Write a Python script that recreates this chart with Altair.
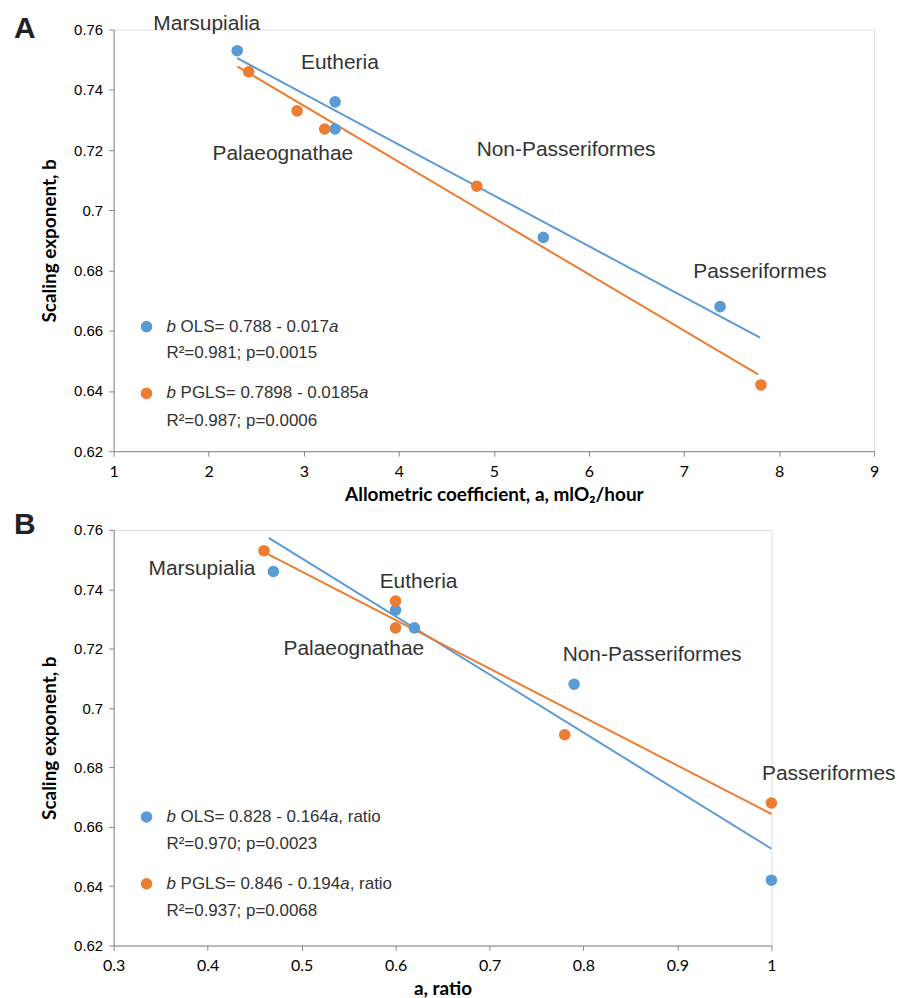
import altair as alt
import pandas as pd

# ---------------- data ----------------
groups = ["Marsupialia", "Eutheria", "Palaeognathae", "Non-Passeriformes", "Passeriformes"]

# Panel A: allometric coefficient a (mlO2/hour) vs scaling exponent b
a_ols_x = [2.30, 3.33, 3.33, 5.52, 7.38]
a_ols_y = [0.753, 0.736, 0.727, 0.691, 0.668]
a_pgls_x = [2.42, 2.93, 3.22, 4.82, 7.81]
a_pgls_y = [0.746, 0.733, 0.727, 0.708, 0.642]
a_fit_ols_x = [2.30, 7.80]
a_fit_ols_y = [0.7505, 0.6577]
a_fit_pgls_x = [2.30, 7.78]
a_fit_pgls_y = [0.7478, 0.6455]
a_label_x = [1.98, 3.38, 2.78, 5.76, 7.80]
a_label_y = [0.7617, 0.749, 0.7186, 0.720, 0.6796]

# Panel B: a ratio vs scaling exponent b
b_ols_x = [0.47, 0.60, 0.62, 0.79, 1.00]
b_ols_y = [0.746, 0.733, 0.727, 0.708, 0.642]
b_pgls_x = [0.46, 0.60, 0.60, 0.78, 1.00]
b_pgls_y = [0.753, 0.736, 0.727, 0.691, 0.668]
b_fit_ols_x = [0.465, 1.00]
b_fit_ols_y = [0.7573, 0.6526]
b_fit_pgls_x = [0.457, 1.00]
b_fit_pgls_y = [0.7530, 0.6643]
b_label_x = [0.394, 0.6245, 0.5556, 0.873, 1.061]
b_label_y = [0.7469, 0.7425, 0.720, 0.7177, 0.6778]

y_ticks = [0.62, 0.64, 0.66, 0.68, 0.70, 0.72, 0.74, 0.76]
a_x_ticks = [1, 2, 3, 4, 5, 6, 7, 8, 9]
b_x_ticks = [0.3, 0.4, 0.5, 0.6, 0.7, 0.8, 0.9, 1.0]

legend_a = [
    [("b", "italic"), (" OLS= 0.788 - 0.017", "normal"), ("a", "italic")],
    [("R²=0.981; p=0.0015", "normal")],
    [("b", "italic"), (" PGLS= 0.7898 - 0.0185", "normal"), ("a", "italic")],
    [("R²=0.987; p=0.0006", "normal")],
]
legend_b = [
    [("b", "italic"), (" OLS= 0.828 - 0.164", "normal"), ("a", "italic"), (", ratio", "normal")],
    [("R²=0.970; p=0.0023", "normal")],
    [("b", "italic"), (" PGLS= 0.846 - 0.194", "normal"), ("a", "italic"), (", ratio", "normal")],
    [("R²=0.937; p=0.0068", "normal")],
]

BLUE = "#5B9BD5"
ORANGE = "#ED7D31"
TXT = "#333333"
SANS = "Liberation Sans"

# Arial advance widths (per 1000 em) for legend piece layout
_W = {' ': 278, '-': 333, '.': 278, ',': 278, ';': 278, '=': 584, 'O': 778, 'L': 556,
      'S': 667, 'P': 667, 'G': 778, 'R': 722, 'a': 556, 'b': 556, 't': 278, 'i': 222,
      'o': 556, 'r': 333, 'p': 556, '²': 333}


def text_width(s, size):
    return sum(_W.get(c, 556) for c in s) * size / 1000.0


color_scale = alt.Scale(domain=["OLS", "PGLS"], range=[BLUE, ORANGE])
one = pd.DataFrame({"k": [0]})


def panel(ox, oy, px, py, fox, foy, fpx, fpy, lx, ly, xdom, xticks, xfmt, xtitle,
          width, height, legend, leg_rows, letter, letter_y):
    pts = pd.DataFrame({
        "x": ox + px,
        "y": oy + py,
        "series": ["OLS"] * len(ox) + ["PGLS"] * len(px),
    })
    fits = pd.DataFrame({
        "x": fox + fpx,
        "y": foy + fpy,
        "series": ["OLS"] * len(fox) + ["PGLS"] * len(fpx),
    })
    labs = pd.DataFrame({"x": lx, "y": ly, "label": groups})

    xs = alt.Scale(domain=xdom, nice=False, zero=False)
    ys = alt.Scale(domain=[0.62, 0.76], nice=False, zero=False)
    xaxis = alt.Axis(values=xticks, format=xfmt, title=xtitle, labelFont="Lato",
                     labelFontSize=16, labelPadding=7, titleFont="Lato",
                     titleFontSize=19, titleFontWeight="bold", titlePadding=6,
                     labelFlush=False, grid=False)
    yaxis = alt.Axis(values=y_ticks, format=".2~f", title="Scaling exponent, b",
                     labelFont=SANS, labelFontSize=15, labelPadding=6,
                     titleFont="Lato", titleFontSize=19, titleFontWeight="bold",
                     titlePadding=14, grid=False)

    lines = alt.Chart(fits).mark_line(strokeWidth=2, clip=False).encode(
        x=alt.X("x:Q", scale=xs, axis=xaxis),
        y=alt.Y("y:Q", scale=ys, axis=yaxis),
        color=alt.Color("series:N", scale=color_scale, legend=None),
        detail="series:N",
    )
    points = alt.Chart(pts).mark_circle(size=135, opacity=1).encode(
        x="x:Q", y="y:Q",
        color=alt.Color("series:N", scale=color_scale, legend=None),
    )
    labels = alt.Chart(labs).mark_text(font=SANS, fontSize=21, color=TXT,
                                       align="center", baseline="middle").encode(
        x="x:Q", y="y:Q", text="label:N")

    layers = [lines, points, labels]

    # legend dots and text
    dot_x = 33
    txt_x = 53
    for (row_y, pieces), col in zip(zip(leg_rows, legend), [BLUE, None, ORANGE, None]):
        if col is not None:
            layers.append(alt.Chart(one).mark_circle(size=135, opacity=1, color=col).encode(
                x=alt.value(dot_x), y=alt.value(row_y)))
        cx = txt_x
        for s, style in pieces:
            lead = len(s) - len(s.lstrip(" "))
            cx += text_width(" " * lead, 17)
            st = s.lstrip(" ")
            layers.append(alt.Chart(one).mark_text(
                text=st, font=SANS, fontSize=17, fontStyle=style, color=TXT,
                align="left", baseline="middle").encode(
                x=alt.value(cx), y=alt.value(row_y)))
            cx += text_width(st, 17)

    layers.append(alt.Chart(one).mark_text(
        text=letter, font=SANS, fontSize=30, fontWeight="bold", color="#222",
        align="left", baseline="alphabetic").encode(
        x=alt.value(-100), y=alt.value(letter_y)))

    return alt.layer(*layers).properties(width=width, height=height)


chart_a = panel(a_ols_x, a_ols_y, a_pgls_x, a_pgls_y,
                a_fit_ols_x, a_fit_ols_y, a_fit_pgls_x, a_fit_pgls_y,
                a_label_x, a_label_y, [1, 9], a_x_ticks, "d",
                "Allometric coefficient, a, mlO₂/hour", 763, 423, legend_a,
                [298, 325, 365, 393], "A", 8)
chart_b = panel(b_ols_x, b_ols_y, b_pgls_x, b_pgls_y,
                b_fit_ols_x, b_fit_ols_y, b_fit_pgls_x, b_fit_pgls_y,
                b_label_x, b_label_y, [0.3, 1.0], b_x_ticks, ".1~f",
                "a, ratio", 660, 417, legend_b,
                [288, 315, 355, 382], "B", 4)

chart = alt.vconcat(chart_a, chart_b, spacing=4).properties(
    padding={"left": 5, "top": 3, "right": 0, "bottom": 0}
).configure_view(stroke=None).configure_axis(
    grid=False, domainColor="#333333", domainWidth=2, tickColor="#aaaaaa",
    tickSize=8, tickWidth=1.5, labelColor=TXT, titleColor="#222222"
).configure(background="white")

chart.save("out.html", embed_options={"renderer": "svg", "actions": False})
